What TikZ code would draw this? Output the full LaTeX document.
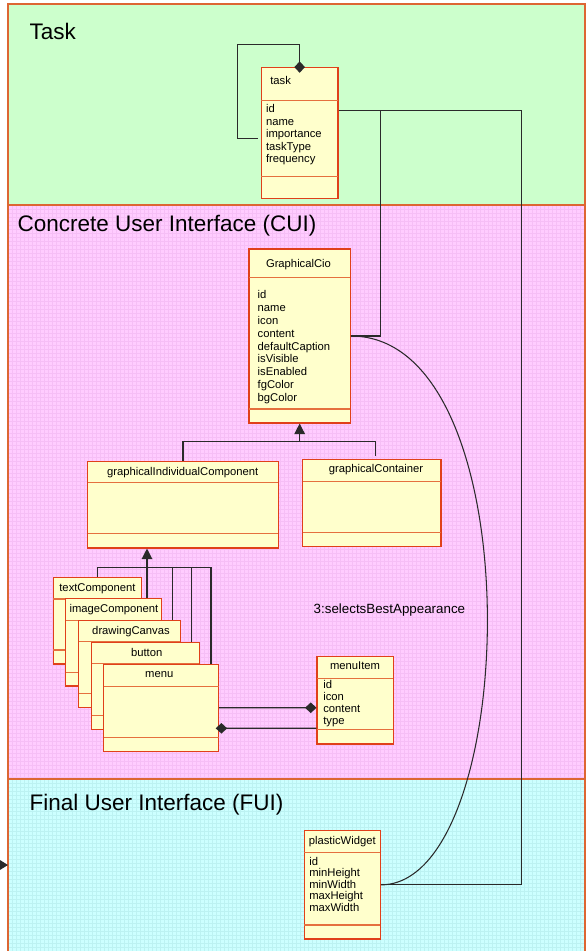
\documentclass[tikz,border=0pt]{standalone}
\usepackage{fontspec}
\setmainfont{Liberation Sans}
\usetikzlibrary{calc}
\usetikzlibrary{fit}
\usetikzlibrary{arrows.meta}
\definecolor{taskColor}{HTML}{CCFFCC}
\definecolor{cuiColor}{HTML}{FFCCFF}
\definecolor{cuiGrid}{HTML}{F6BEF6}
\definecolor{fuiColor}{HTML}{CCFFFF}
\definecolor{fuiGrid}{HTML}{BCF2F2}
\definecolor{frameColor}{HTML}{DD6633}
\definecolor{boxColor}{HTML}{E0401A}
\definecolor{dividerColor}{HTML}{E5703E}
\definecolor{boxFill}{HTML}{FFFFCC}
\definecolor{linkColor}{HTML}{2A2A2A}

\newcommand{\umlclass}[7]{%
	\node[classbox, fit={(#2,#3) (#4,#5)}] (#1) {};
	\draw[divider] (#2,#6) -- (#4,#6);
	\draw[divider] (#2,#7) -- (#4,#7);
}

\begin{document}
\begin{tikzpicture}[x=0.02cm, y=-0.02cm, every node/.style={font=\fontsize{6.4}{7.1}\selectfont}]
			\tikzset{
				panel/.style={draw=frameColor, line width=0.75pt},
				paneltitle/.style={font=\fontsize{12.8}{15}\selectfont, anchor=base west, inner sep=0pt},
				classbox/.style={draw=boxColor, fill=boxFill, line width=0.6pt, inner sep=0pt},
				divider/.style={draw=dividerColor, line width=0.6pt},
				classname/.style={inner sep=0pt},
				attrs/.style={align=left, inner sep=0pt, anchor=north west, font=\fontsize{6.4}{#1}\selectfont},
				attrs/.default=7.1pt,
				link/.style={draw=linkColor, line width=0.7pt}
			}
			\useasboundingbox (0,0) rectangle (588,951);
			\fill[taskColor] (8,4) rectangle (585,205);
			\fill[cuiColor] (8,205) rectangle (585,779);
			\fill[fuiColor] (8,779) rectangle (585,960);
			\foreach \gx in {12,16,...,584} {
				\draw[cuiGrid, line width=0.2pt] (\gx,205) -- (\gx,779);
				\draw[fuiGrid, line width=0.2pt] (\gx,779) -- (\gx,951);
			}
			\foreach \gy in {209,213,...,777} \draw[cuiGrid, line width=0.2pt] (8,\gy) -- (585,\gy);
			\foreach \gy in {783,787,...,951} \draw[fuiGrid, line width=0.2pt] (8,\gy) -- (585,\gy);
			\draw[panel] (8,4) rectangle (585,205);
			\draw[panel] (8,205) rectangle (585,779);
			\draw[panel] (8,779) rectangle (585,960);
			\node[paneltitle] (tasktitle) at (29.3,39.3) {Task};
			\node[paneltitle] (cuititle) at (17.3,231.7) {Concrete User Interface (CUI)};
			\node[paneltitle] (fuititle) at (29.3,810) {Final User Interface (FUI)};

			\umlclass{task}{261.3}{67.7}{338}{198.3}{100.7}{176.7}
			\node[classname, anchor=west] (taskname) at (270,80.7) {task};
			\node[attrs=7.1pt] (taskattrs) at (265.7,104.3) {id\\name\\importance\\taskType\\frequency};

			\umlclass{gcio}{249}{249}{350.3}{423}{277.7}{409}
			\node[classname] (gcioname) at (298.5,265) {GraphicalCio};
			\node[attrs=7.3pt] (gcioattrs) at (257.3,290.2) {id\\name\\icon\\content\\defaultCaption\\isVisible\\isEnabled\\fgColor\\bgColor};

			\umlclass{gic}{87.7}{461.3}{278.3}{548}{482.7}{533.7}
			\node[classname] (gicname) at (182.7,472.3) {graphicalIndividualComponent};
			\umlclass{gc}{302.7}{459.7}{441}{546.7}{481.3}{532.7}
			\node[classname] (gcname) at (376,470) {graphicalContainer};

			\umlclass{txt}{53.3}{577.3}{141.7}{664}{599}{650}
			\node[classname] (txtname) at (97.5,588.5) {textComponent};
			\umlclass{img}{65.7}{598.7}{161.3}{686}{620.7}{672.3}
			\node[classname] (imgname) at (114,610) {imageComponent};
			\umlclass{drw}{78.7}{620.3}{180.3}{707.7}{641.7}{693.7}
			\node[classname] (drwname) at (131,632) {drawingCanvas};
			\umlclass{btn}{91.7}{642.3}{199.3}{729.7}{663.7}{715.7}
			\node[classname] (btnname) at (146.7,652.7) {button};
			\umlclass{menu}{103.7}{664.3}{218.7}{751.3}{686.3}{737.3}
			\node[classname] (menuname) at (159.3,675) {menu};

			\umlclass{mi}{317}{656.7}{393.3}{744}{678.7}{729.3}
			\node[classname] (miname) at (355,666) {menuItem};
			\node[attrs=6.8pt] (miattrs) at (323,680) {id\\icon\\content\\type};

			\umlclass{pw}{304.3}{830.7}{380.3}{939}{852.3}{925}
			\node[classname] (pwname) at (342.3,841.7) {plasticWidget};
			\node[attrs=6.6pt] (pwattrs) at (309,856.6) {id\\minHeight\\minWidth\\maxHeight\\maxWidth};

			\draw[link, {Diamond[length=6.5pt, width=6pt]}-, shorten <=-3.2pt] (task.north) -- ++(0,-23) -| ($(task.west)+(-23.3,5.7)$) -- ($(task.west)+(-3,5.7)$);
			\draw[link] ($(task.east)+(0,-22.3)$) -| ($(gcio.east)+(30,0)$) -- (gcio.east);
			\draw[link] ($(task.east)+(0,-22.3)$) -| ($(pw.east)+(141,0)$) -- (pw.east);
			\draw[link, line width=0.6pt] (gcio.east) .. controls ($(gcio.east)+(184,0)$) and ($(pw.east)+(140,0)$) .. (pw.east)
				node[pos=0.5, left=9pt, font=\fontsize{7.6}{9}\selectfont] (selectlabel) {3:selectsBestAppearance};

			\draw[link, -{Triangle[length=6pt, width=6pt]}] (gic.north) |- ($(gcio.south)+(0,17.7)$) -- (gcio.south);
			\draw[link] ($(gc.north)+(3.8,-3)$) |- ($(gcio.south)+(0,17.7)$);

			\draw[link, -{Triangle[length=6pt, width=6pt]}] ($(img.north)+(33.5,0)$) -- ($(gic.south)+(-36,0)$);
			\draw[link] (txt.north) |- ($(gic.south)+(-36,19.3)$);
			\draw[link] ($(drw.north)+(43.2,0)$) |- ($(gic.south)+(-36,19.3)$);
			\draw[link] ($(btn.north)+(46.2,0)$) |- ($(gic.south)+(-36,19.3)$);
			\draw[link] ($(menu.north)+(49.8,0)$) |- ($(gic.south)+(-36,19.3)$);

			\draw[link, -{Diamond[length=6.5pt, width=6pt]}] (menu.east) -- ($(mi.west)+(0,7.4)$);
			\draw[link, {Diamond[length=6.5pt, width=6pt]}-, shorten <=-2pt] ($(menu.east)+(0,20.5)$) -- ($(mi.west)+(0,28)$);

			\coordinate (fuitail) at (-20,865);
			\coordinate (fuihead) at (8,865);
			\draw[link, -{Triangle[length=5pt, width=6pt]}] (fuitail) -- (fuihead);
		\end{tikzpicture}
\end{document}
